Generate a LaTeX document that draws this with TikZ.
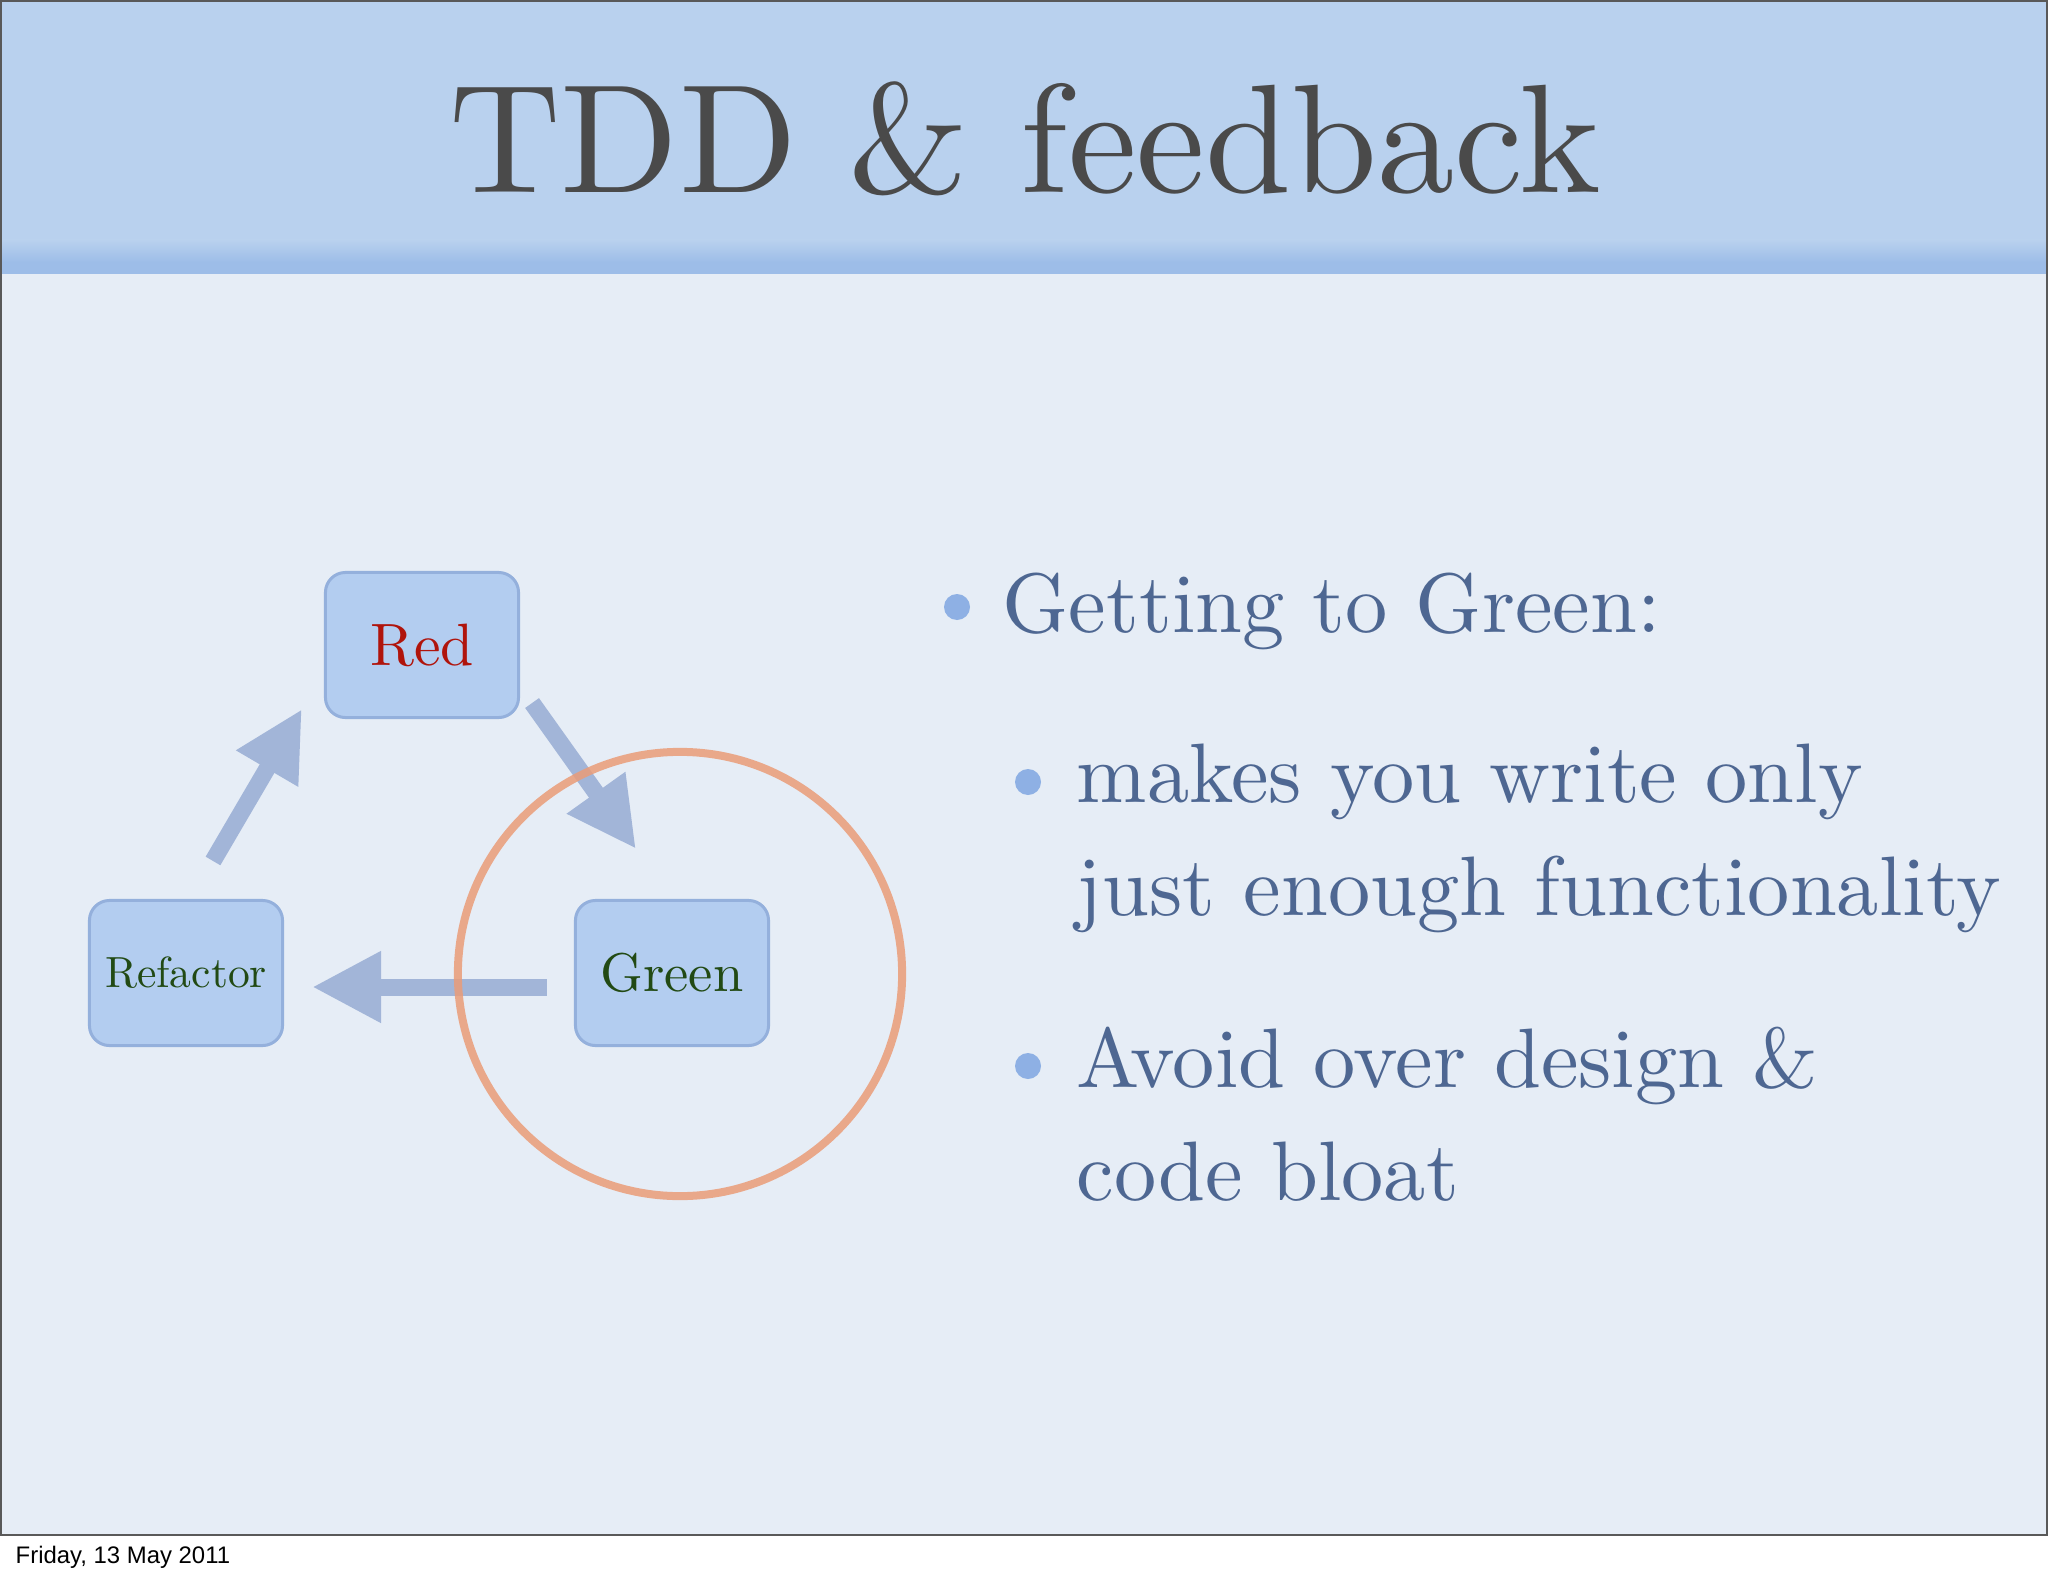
\documentclass[tikz,border=0pt]{standalone}
\usepackage{fontspec}
\setmainfont{lmroman10-regular.otf}
\newfontfamily\datefont{Liberation Sans}
\usetikzlibrary{arrows.meta,positioning}
\definecolor{headblue}{HTML}{B9D1EE}
\definecolor{stripblue}{HTML}{9DBDE8}
\definecolor{paper}{HTML}{E6EDF6}
\definecolor{boxfill}{HTML}{B3CDF0}
\definecolor{boxline}{HTML}{94B0DC}
\definecolor{flowblue}{HTML}{A2B5D8}
\definecolor{ringorange}{HTML}{EA9C78}
\definecolor{itemblue}{HTML}{4E6792}
\definecolor{dotblue}{HTML}{8EB0E4}
\definecolor{titlegray}{HTML}{4A4A4A}
\definecolor{redtext}{HTML}{B0140C}
\definecolor{greentext}{HTML}{224A14}

\begin{document}
\begin{tikzpicture}[x=.01cm,y=-.01cm,>=Latex,
  stage/.style={draw=boxline,fill=boxfill,line width=.03cm,rounded corners=.2cm,minimum width=1.93cm,minimum height=1.45cm},
  flow/.style={draw=flowblue,line width=.17cm,-{Triangle[length=.69cm,width=.67cm]}},
  ring/.style={circle,draw=ringorange,line width=.08cm,minimum size=4.44cm,draw opacity=.85},
  item/.style={anchor=base west,inner sep=0,text=itemblue,font=\fontsize{24}{29}\selectfont}]
\useasboundingbox (0,0) rectangle (2048,1576);
\fill[white] (0,0) rectangle (2048,1576);
\fill[paper] (0,260) rectangle (2048,1535);
\fill[headblue] (0,0) rectangle (2048,250);
\shade[top color=headblue,bottom color=stripblue] (0,240) rectangle (2048,262);
\fill[stripblue] (0,262) rectangle (2048,274);
\draw[gray!70!black,line width=.02cm] (1,1) rectangle (2047,1535);
\node[anchor=base,inner sep=0,text=titlegray,font=\fontsize{44}{50}\selectfont] (title) at (1025,193) {TDD \& feedback};
% cycle
\node[stage,text=redtext,font=\fontsize{17}{20}\selectfont] (red) at (422,645) {Red};
\node[stage,text=greentext,font=\fontsize{15.5}{18}\selectfont] (green) at (672,973) {Green};
\node[stage,text=greentext,font=\fontsize{12.4}{15}\selectfont] (refactor) at (186,973) {Refactor};
\draw[flow] ([shift={(27,-38)}]refactor.north)--([shift={(-22,-10)}]red.south west);
\draw[flow] ([shift={(12,-16)}]red.south east)--([shift={(-36,-50)}]green.north);
\draw[flow] ([shift={(-27,14)}]green.west)--([shift={(28,14)}]refactor.east);
\node[ring] (focus) at (680,974) {};
% bullets
\fill[dotblue] (957,607) circle (13);
\fill[dotblue] (1028,782) circle (13);
\fill[dotblue] (1028,1066) circle (13);
\node[item] (tgreen) at (1002,632) {Getting to Green:};
\node[item] (tonly) at (1076,802) {makes you write only};
\node[item] (tjust) at (1076,915) {just enough functionality};
\node[item] (tavoid) at (1076,1087) {Avoid over design \&};
\node[item] (tbloat) at (1076,1200) {code bloat};
\node[anchor=base west,inner sep=0,font=\datefont\fontsize{6.8}{8}\selectfont] (date) at (15,1563) {Friday, 13 May 2011};
\end{tikzpicture}
\end{document}
